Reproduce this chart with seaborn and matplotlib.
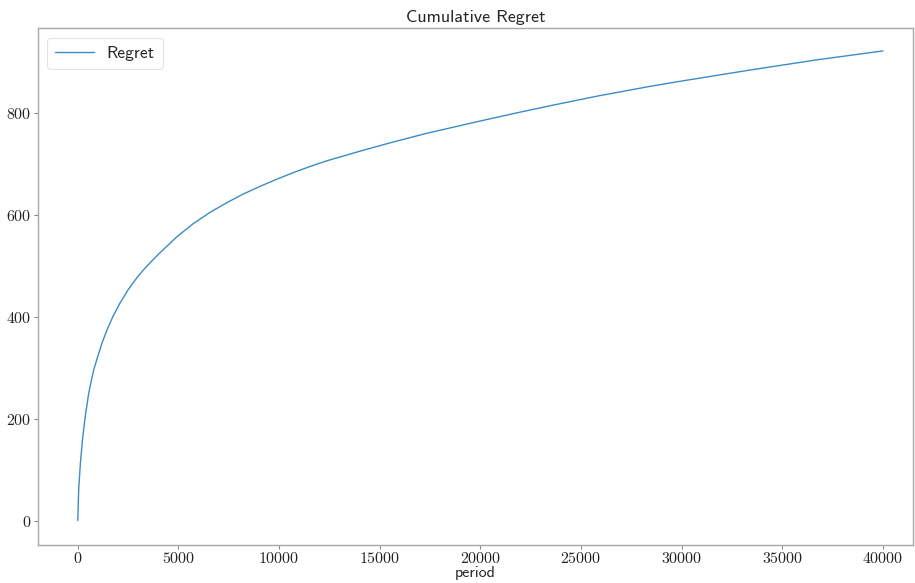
import matplotlib
matplotlib.use("Agg")
import matplotlib.pyplot as plt
import seaborn as sns
import pandas as pd

# Cumulative regret sampled along the run
period = [0, 45, 130, 245, 380, 540, 680, 800, 960, 1200, 1450, 1750, 2110,
          2500, 2940, 3350, 3760, 4090, 4920, 5740, 6570, 7400, 8220, 9050,
          9880, 10700, 11530, 12350, 14000, 15650, 17310, 18960, 19950,
          21770, 23420, 25900, 28370, 30020, 33330, 36630, 40000]
regret = [0, 61, 113, 163, 207, 249, 276, 297, 318, 348, 374, 401, 428,
          453, 477, 496, 513, 526, 557, 583, 605, 624, 641, 656,
          670, 683, 695, 706, 725, 743, 760, 775, 784,
          800, 814, 834, 852, 863, 884, 904, 922]

df = pd.DataFrame({"period": period, "Regret": regret})

sns.set_style("white")
plt.rcParams["axes.formatter.use_mathtext"] = True

fig, ax = plt.subplots(figsize=(9.15, 5.83), dpi=100)
fig.subplots_adjust(left=0.041, right=0.998, top=0.952, bottom=0.066)

sns.lineplot(data=df, x="period", y="Regret", ax=ax, color="#3a8cc6",
             linewidth=1.0, label="Regret")

ax.set_xticks(range(0, 40001, 5000))
ax.set_yticks(range(0, 801, 200))
ax.set_xlim(-2000, 41500)
ax.set_ylim(-47, 967)

for lab in ax.get_xticklabels() + ax.get_yticklabels():
    lab.set_fontfamily("cmr10")
    lab.set_fontsize(11.5)
    lab.set_color("#222222")

ax.tick_params(axis="both", which="major", length=3, width=0.8,
               color="#888888", bottom=True, left=True, pad=1.5)

for s in ax.spines.values():
    s.set_color("#a8a8a8")
    s.set_linewidth(1.0)

ax.set_title("Cumulative Regret", fontfamily="cmss10", fontsize=13, pad=4)
ax.set_xlabel("period", fontfamily="cmss10", fontsize=11.5, labelpad=0.5)
ax.set_ylabel("")

leg = ax.legend(loc="upper left", prop={"family": "cmss10", "size": 12.6},
                handlelength=2.2, handletextpad=0.75, frameon=True,
                borderpad=0.45, borderaxespad=0.55)
leg.get_frame().set_edgecolor("#dddddd")
leg.get_frame().set_linewidth(0.8)

fig.savefig("out.png", dpi=100)
